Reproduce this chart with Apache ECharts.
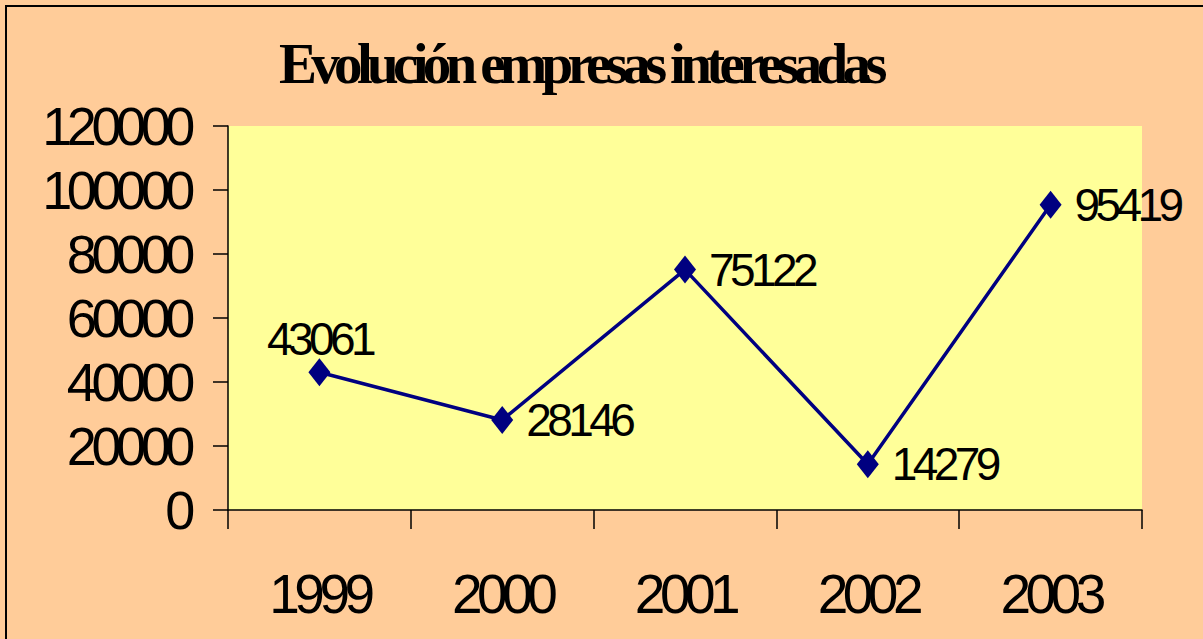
<!DOCTYPE html>
<html>
<head>
<meta charset="utf-8">
<script src="https://cdn.jsdelivr.net/npm/echarts@6/dist/echarts.min.js"></script>
<style>
	html,body{margin:0;padding:0;background:#FFCC99;}
	#chart{width:1203px;height:639px;}
	/* the original text is packed tight, so squeeze every glyph run */
	#chart text{letter-spacing:-0.1em;}
</style>
</head>
<body>
<div id="chart"></div>
<script>
	var years = ["1999", "2000", "2001", "2002", "2003"];
	var empresas = [43061, 28146, 75122, 14279, 95419];
	var labelPos = ["top", "right", "right", "right", "right"];
	var yTicks = {min: 0, max: 120000, interval: 20000};

	var chart = echarts.init(document.getElementById("chart"), null, {renderer: "svg"});

	var option = {
		backgroundColor: "#FFCC99",
		animation: false,
		title: {
			text: "Evolución empresas interesadas",
			left: 274,
			top: 30,
			textStyle: {
				fontFamily: "Liberation Serif",
				fontWeight: "bold",
				fontSize: 57,
				color: "#000"
			}
		},
		graphic: [{
			type: "rect",
			shape: {x: 6, y: 6, width: 1220, height: 660},
			style: {fill: null, stroke: "#000", lineWidth: 2},
			silent: true
		}],
		grid: {
			left: 228,
			right: 61,
			top: 126,
			bottom: 129,
			outerBoundsMode: "none",
			containLabel: false,
			show: true,
			backgroundColor: "#FFFF99",
			borderWidth: 0
		},
		xAxis: {
			type: "category",
			data: years,
			boundaryGap: true,
			axisLine: {lineStyle: {color: "#000", width: 1.5}},
			axisTick: {show: true, length: 19, alignWithLabel: false, lineStyle: {color: "#000", width: 1.5}},
			axisLabel: {
				margin: 56,
				fontFamily: "Liberation Sans",
				fontSize: 55,
				color: "#000"
			},
			splitLine: {show: false}
		},
		yAxis: {
			type: "value",
			min: yTicks.min,
			max: yTicks.max,
			interval: yTicks.interval,
			axisLine: {show: true, lineStyle: {color: "#000", width: 1.5}},
			axisTick: {show: true, length: 15, lineStyle: {color: "#000", width: 1.5}},
			axisLabel: {
				margin: 38,
				fontFamily: "Liberation Sans",
				fontSize: 54,
				color: "#000",
				formatter: function (v) { return String(v); }
			},
			splitLine: {show: false}
		},
		series: [{
			type: "line",
			data: empresas.map(function (v, i) {
				return {
					value: v,
					label: {position: labelPos[i], distance: labelPos[i] == "top" ? -4 : 13}
				};
			}),
			symbol: "diamond",
			symbolSize: [22, 28],
			itemStyle: {color: "#000080"},
			lineStyle: {color: "#000080", width: 3.5},
			label: {
				show: true,
				fontFamily: "Liberation Sans",
				fontSize: 46,
				color: "#000"
			}
		}]
	};

	chart.setOption(option);
</script>
</body>
</html>
